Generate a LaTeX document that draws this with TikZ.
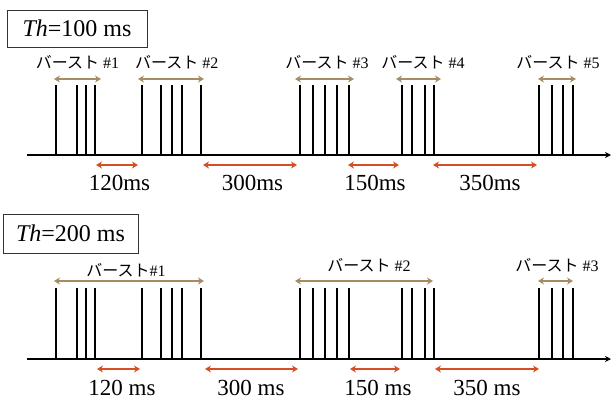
\documentclass[tikz,border=0pt]{standalone}
\usepackage{fontspec}
\setmainfont{Liberation Serif}
\newfontfamily\jpfont{Noto Sans CJK JP}
\usepackage{tikz}
\usetikzlibrary{arrows.meta,calc,positioning}

\definecolor{burstbrown}{RGB}{166,140,100}
\definecolor{gapred}{RGB}{214,78,38}

\newcommand{\burst}[1]{{\jpfont バースト}#1}

\tikzset{
  spike/.style={line width=2.4pt, black},
  timeaxis/.style={line width=2.4pt, black, -{Stealth[length=6pt,width=6pt]}},
  burstarrow/.style={line width=2.4pt, burstbrown, {Stealth[length=6pt,width=7pt]}-{Stealth[length=6pt,width=7pt]}},
  gaparrow/.style={line width=2pt, gapred, {Stealth[length=6pt,width=7pt]}-{Stealth[length=6pt,width=7pt]}},
  thbox/.style={draw=black!80, text=black, line width=0.8pt, inner sep=0pt, font=\fontsize{24}{26}\selectfont},
  burstlabel/.style={font=\fontsize{16}{18}\selectfont},
  gaplabel/.style={inner sep=1pt, font=\fontsize{23}{25}\selectfont}
}

\begin{document}
\begin{tikzpicture}[x=1pt, y=-1pt]
\useasboundingbox (0,0) rectangle (611,400);

% ---- Panel 1: Th = 100 ms ----
\begin{scope}
  \node[thbox, minimum width=140pt, minimum height=37pt] (th1) at (77,28.5) {\textit{Th}=100 ms};
  % time axis and spikes
  \coordinate (ax1s) at (27,155);
  \coordinate (ax1e) at (611,155);
  \draw[timeaxis] (ax1s) -- (ax1e);
  \foreach \x in {56,77,86,95,142,161,172,182,201,300,313,325,337,349,402,412,425,434,539,552,563,573}
    \draw[spike] (\x,155) -- (\x,85);
  % bursts
  \draw[burstarrow] (54,79) -- (101,79);
  \draw[burstarrow] (138,79) -- (204,79);
  \draw[burstarrow] (295,79) -- (354,79);
  \draw[burstarrow] (396,79) -- (441,79);
  \draw[burstarrow] (538,79) -- (576,79);
  \node[burstlabel] (b11) at (77.5,62) {\burst{ \#1}};
  \node[burstlabel] (b12) at (176.7,62) {\burst{ \#2}};
  \node[burstlabel] (b13) at (327,62) {\burst{ \#3}};
  \node[burstlabel] (b14) at (423,62) {\burst{ \#4}};
  \node[burstlabel] (b15) at (558,62) {\burst{ \#5}};
  % gaps
  \draw[gaparrow] (96,165) -- (138,165);
  \draw[gaparrow] (203,165) -- (297,165);
  \draw[gaparrow] (348,165) -- (399,165);
  \draw[gaparrow] (433,165) -- (537,165);
  \node[gaplabel] (g11) at (119.5,183) {120ms};
  \node[gaplabel] (g12) at (252.5,183) {300ms};
  \node[gaplabel] (g13) at (375,183) {150ms};
  \node[gaplabel] (g14) at (490,183) {350ms};
\end{scope}

% ---- Panel 2: Th = 200 ms ----
\begin{scope}[shift={(0,204)}]
  \node[thbox, minimum width=135pt, minimum height=39pt] (th2) at (70.5,29.5) {\textit{Th}=200 ms};
  \coordinate (ax2s) at (27,155);
  \coordinate (ax2e) at (611,155);
  \draw[timeaxis] (ax2s) -- (ax2e);
  \foreach \x in {56,77,86,95,142,161,172,182,201,300,313,325,337,349,402,412,425,434,539,552,563,573}
    \draw[spike] (\x,155) -- (\x,84);
  % bursts
  \draw[burstarrow] (54,77) -- (204,77);
  \draw[burstarrow] (295,77) -- (433,77);
  \draw[burstarrow] (538,77) -- (573,77);
  \node[burstlabel] (b21) at (126,66) {\burst{\#1}};
  \node[burstlabel] (b22) at (369,61) {\burst{ \#2}};
  \node[burstlabel] (b23) at (557,61) {\burst{ \#3}};
  % gaps
  \draw[gaparrow] (97,165) -- (140,165);
  \draw[gaparrow] (205,165) -- (298,165);
  \draw[gaparrow] (350,165) -- (400,165);
  \draw[gaparrow] (435,165) -- (539,165);
  \node[gaplabel] (g21) at (122,184) {120 ms};
  \node[gaplabel] (g22) at (251,184) {300 ms};
  \node[gaplabel] (g23) at (378,184) {150 ms};
  \node[gaplabel] (g24) at (487,184) {350 ms};
\end{scope}

\end{tikzpicture}
\end{document}
